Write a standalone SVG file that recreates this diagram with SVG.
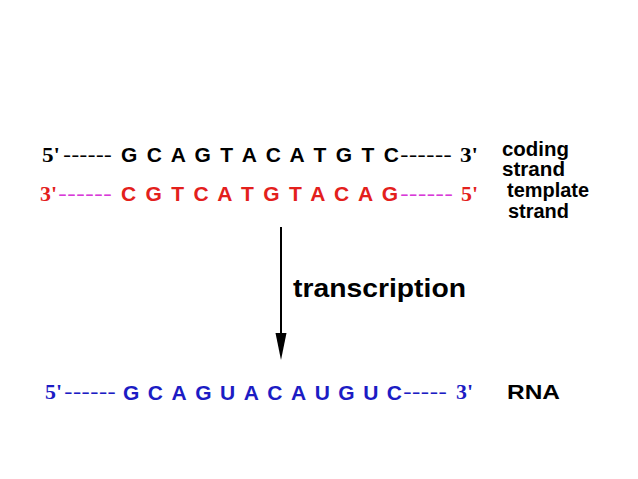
<svg xmlns="http://www.w3.org/2000/svg" width="638" height="479" viewBox="0 0 638 479">
<style>
.s{font-family:"Liberation Serif","Times New Roman",serif;font-weight:bold;font-size:20px}
.n{font-family:"Liberation Sans",Arial,sans-serif;font-weight:bold;font-size:21px}
.d{font-family:"Liberation Sans",Arial,sans-serif;font-size:20px}
.lb{font-family:"Liberation Sans",Arial,sans-serif;font-weight:bold;font-size:19.5px}
.k{fill:#000}
.r{fill:#e3201c}
.m{fill:#d83ad8}
.b{fill:#1c1cc4}
</style>
<rect width="638" height="479" fill="#fff"/>
<g id="coding-strand">
<text class="s k" x="42" y="162" textLength="18" lengthAdjust="spacingAndGlyphs">5'</text>
<text class="d k" x="63" y="162" textLength="49" lengthAdjust="spacingAndGlyphs">------</text>
<text class="n k" x="121" y="161.5" textLength="278" lengthAdjust="spacing">G C A G T A C A T G T C</text>
<text class="d k" x="400" y="162" textLength="52" lengthAdjust="spacingAndGlyphs">------</text>
<text class="s k" x="460" y="162" textLength="18" lengthAdjust="spacingAndGlyphs">3'</text>
<text class="lb k" x="502" y="156" textLength="67" lengthAdjust="spacingAndGlyphs">coding</text>
<text class="lb k" x="502" y="175.5" textLength="63" lengthAdjust="spacingAndGlyphs">strand</text>
</g>
<g id="template-strand">
<text class="s r" x="40" y="201" textLength="17" lengthAdjust="spacingAndGlyphs">3'</text>
<text class="d m" x="58" y="201" textLength="54" lengthAdjust="spacingAndGlyphs">------</text>
<text class="n r" x="121" y="200.8" textLength="277" lengthAdjust="spacing">C G T C A T G T A C A G</text>
<text class="d m" x="400" y="201" textLength="53" lengthAdjust="spacingAndGlyphs">------</text>
<text class="s r" x="461" y="201" textLength="17" lengthAdjust="spacingAndGlyphs">5'</text>
<text class="lb k" x="507" y="197" textLength="82" lengthAdjust="spacingAndGlyphs">template</text>
<text class="lb k" x="508" y="217.5" textLength="61" lengthAdjust="spacingAndGlyphs">strand</text>
</g>
<g id="rna">
<text class="s b" x="45" y="399" textLength="17" lengthAdjust="spacingAndGlyphs">5'</text>
<text class="d b" x="64" y="399" textLength="52" lengthAdjust="spacingAndGlyphs">------</text>
<text class="n b" x="123" y="399.5" textLength="279" lengthAdjust="spacing">GCAGUACAUGUC</text>
<text class="d b" x="403" y="399" textLength="44" lengthAdjust="spacingAndGlyphs">-----</text>
<text class="s b" x="456" y="399" textLength="17" lengthAdjust="spacingAndGlyphs">3'</text>
<text class="n k" x="507" y="399" style="font-size:20px" textLength="53" lengthAdjust="spacingAndGlyphs">RNA</text>
</g>
<g id="connectors">
<line x1="281" y1="227" x2="281" y2="340" stroke="#000" stroke-width="2"/>
<polygon points="275.5,333 286.5,333 281,360" fill="#000"/>
</g>
<g id="transcription-label">
<text class="n k" x="293" y="297" style="font-size:26px" textLength="173" lengthAdjust="spacingAndGlyphs">transcription</text>
</g>
</svg>
